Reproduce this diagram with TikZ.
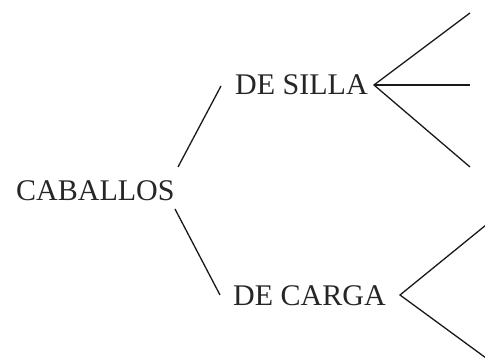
\documentclass[tikz,border=0pt]{standalone}
\usepackage{fontspec}
\setmainfont{Liberation Serif}
\begin{document}
\begin{tikzpicture}[x=1pt,y=1pt,
  lbl/.style={inner sep=0pt, anchor=base west, text=black!85, font=\fontsize{30}{36}\selectfont},
  branch/.style={draw=black!90, line width=1.3pt}]
\useasboundingbox (0,0) rectangle (485,358);
\fill[white] (0,0) rectangle (485,358);
% labels
\node[lbl] (cab) at (16,157) {CABALLOS};
\node[lbl] (silla) at (235,263) {DE SILLA};
\node[lbl] (carga) at (233,52) {DE CARGA};
% branch points
\coordinate (cabU) at (178,191);
\coordinate (sillaL) at (221,272);
\coordinate (cabD) at (175,149);
\coordinate (cargaL) at (220,63);
\coordinate (sillaR) at (374,273);
\coordinate (s1) at (470,345);
\coordinate (s2) at (470,273);
\coordinate (s3) at (470,191);
\coordinate (cargaR) at (400,63);
\coordinate (c1) at (486,133);
\coordinate (c2) at (486,0);
% connectors
\draw[branch] (cabU) -- (sillaL);
\draw[branch] (cabD) -- (cargaL);
\draw[branch] (s1) -- (sillaR) -- (s3);
\draw[branch] (sillaR) -- (s2);
\draw[branch] (c1) -- (cargaR) -- (c2);
\end{tikzpicture}
\end{document}
